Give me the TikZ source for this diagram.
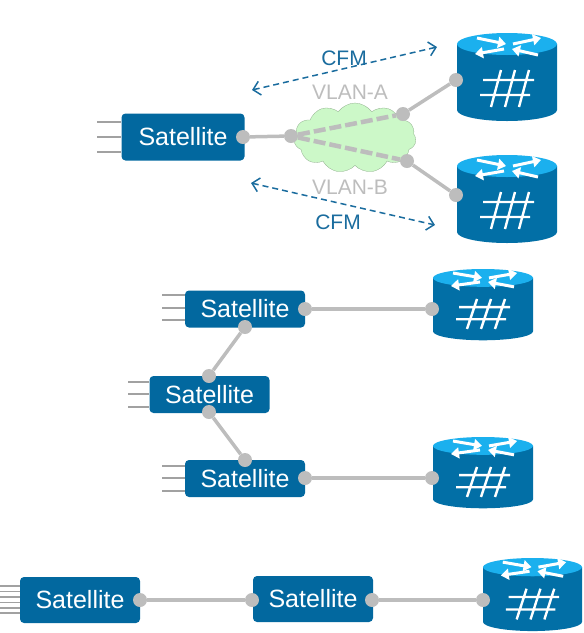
\documentclass[tikz,border=0pt]{standalone}
\usepackage{fontspec}
\setmainfont{Liberation Sans}
\definecolor{satBlue}{HTML}{02689F}
\definecolor{routerBody}{HTML}{026FA6}
\definecolor{routerTop}{HTML}{1BB0EE}
\definecolor{linkGrey}{HTML}{BDBDBD}
\definecolor{cfmBlue}{HTML}{1A6C9E}
\definecolor{cloudGreen}{HTML}{CCF8C8}
\usetikzlibrary{arrows.meta,shapes.symbols}
\tikzset{
  sat/.style={fill=satBlue, text=white, rounded corners=4pt, minimum width=120pt, minimum height=37pt, inner sep=0pt, font=\fontsize{25}{28}\selectfont},
  dot/.style={circle, fill=linkGrey, minimum size=14pt, inner sep=0pt},
  link/.style={draw=linkGrey, line width=3.5pt},
  vlanlink/.style={draw=linkGrey, line width=4.5pt, dash pattern=on 12pt off 4pt},
  port/.style={draw=linkGrey!85!black, line width=1.2pt},
  cfm/.style={draw=cfmBlue, line width=1.5pt, dash pattern=on 6pt off 4pt, {Straight Barb[length=7pt,width=14pt]}-{Straight Barb[length=7pt,width=14pt]}},
  lbl/.style={font=\fontsize{21}{24}\selectfont, inner sep=0pt},
  lidarrow/.style={draw=white, line width=3pt, -{Triangle[length=8pt,width=11pt]}},
  pics/router/.style={code={
    % body, 100 wide and 88 high, from the top left of the rim
    \fill[routerBody] (0,11) -- (0,77) arc[start angle=180, end angle=0, x radius=50, y radius=11] -- (100,11) -- cycle;
    \fill[routerTop] (50,11) ellipse[x radius=50, y radius=11];
    % arrows on the lid
    \draw[lidarrow] (20,5) -- (49,11);
    \draw[lidarrow] (56,11) -- (84,5);
    \draw[lidarrow] (47,16) -- (18,21);
    \draw[lidarrow] (81,22) -- (55,16);
    % grid on the body
    \draw[white, line width=2.4pt] (26,47) -- (77,47) (23,62) -- (73,62)
      (34,74) -- (44,37) (48,74) -- (58,37) (62,74) -- (72,37);
  }}
}
\begin{document}
\begin{tikzpicture}[x=1pt, y=-1pt]
\useasboundingbox (0,0) rectangle (584,633);
% routers
\pic[xscale=1.0, yscale=1.0] at (457,33) {router};
\pic[xscale=1.0, yscale=1.0] at (457,155) {router};
\pic[xscale=1.0, yscale=0.81] at (433,269) {router};
\pic[xscale=1.0, yscale=0.81] at (433,437) {router};
\pic[xscale=0.99, yscale=0.83] at (483,558) {router};
% cloud
\node[cloud, cloud puffs=11, cloud puff arc=110, aspect=1.75, fill=cloudGreen, draw=cloudGreen!70!black, line width=0.3pt, minimum width=122pt, minimum height=70pt, inner sep=0pt] (vlanCloud) at (355,138) {};
% top group
\node[sat, minimum height=47pt, minimum width=123pt] (sat1) at (183,137) {Satellite};
\node[dot] (d1a) at (243,137) {};
\node[dot] (hub) at (291,136) {};
\node[dot] (vlanA) at (403,114) {};
\node[dot] (vlanB) at (407,161) {};
\node[dot] (r1) at (456,80) {};
\node[dot] (r2) at (456,195) {};
\draw[link] (d1a) -- (hub);
\draw[vlanlink] (hub) -- (vlanA);
\draw[vlanlink] (hub) -- (vlanB);
\draw[link] (vlanA) -- (r1);
\draw[link] (vlanB) -- (r2);
\foreach \y/\n in {122/a,137/b,152/c}{
  \coordinate (p1\n) at (97,\y);
  \draw[port] (p1\n) -- (p1\n -| sat1.west);
}
% cfm arrows
\coordinate (cfmA1) at (252,90);
\coordinate (cfmA2) at (437,47);
\coordinate (cfmB1) at (251,183);
\coordinate (cfmB2) at (435,225);
\draw[cfm] (cfmA1) -- (cfmA2);
\draw[cfm] (cfmB1) -- (cfmB2);
\node[lbl, text=cfmBlue] (cfmA) at (344,58) {CFM};
\node[lbl, text=cfmBlue] (cfmB) at (338,222) {CFM};
\node[lbl, text=linkGrey] (labA) at (350,92) {VLAN-A};
\node[lbl, text=linkGrey] (labB) at (350,187) {VLAN-B};
% middle group
\node[sat] (sat2) at (245,309) {Satellite};
\node[sat] (sat3) at (209.5,394.5) {Satellite};
\node[sat] (sat4) at (245,478.5) {Satellite};
\node[dot] (d2) at (305,309) {};
\node[dot] (r3) at (432,309) {};
\node[dot] (d4) at (305,478) {};
\node[dot] (r4) at (432,478) {};
\node[dot] (d2b) at (245,327) {};
\node[dot] (d3a) at (209,376) {};
\node[dot] (d3b) at (209,412) {};
\node[dot] (d4a) at (245,460) {};
\draw[link] (d2) -- (r3);
\draw[link] (d4) -- (r4);
\draw[link] (d2b) -- (d3a);
\draw[link] (d3b) -- (d4a);
\foreach \y/\n in {295/a,308/b,320/c}{
  \coordinate (p2\n) at (162,\y);
  \draw[port] (p2\n) -- (p2\n -| sat2.west);
}
\foreach \y/\n in {382/a,394/b,407/c}{
  \coordinate (p3\n) at (128,\y);
  \draw[port] (p3\n) -- (p3\n -| sat3.west);
}
\foreach \y/\n in {466/a,478/b,491/c}{
  \coordinate (p4\n) at (162,\y);
  \draw[port] (p4\n) -- (p4\n -| sat4.west);
}
% bottom group
\node[sat, minimum height=46pt] (sat5) at (80,600) {Satellite};
\node[sat, minimum height=46pt] (sat6) at (313,599) {Satellite};
\node[dot] (d5) at (140,600) {};
\node[dot] (d6a) at (252,600) {};
\node[dot] (d6b) at (372,600) {};
\node[dot] (r5) at (483,600) {};
\draw[link] (d5) -- (d6a);
\draw[link] (d6b) -- (r5);
\foreach \y/\n in {586/a,591.5/b,597/c,602.5/d,608/e,613/f}{
  \coordinate (p5\n) at (0,\y);
  \draw[port] (p5\n) -- (p5\n -| sat5.west);
}
\end{tikzpicture}
\end{document}
